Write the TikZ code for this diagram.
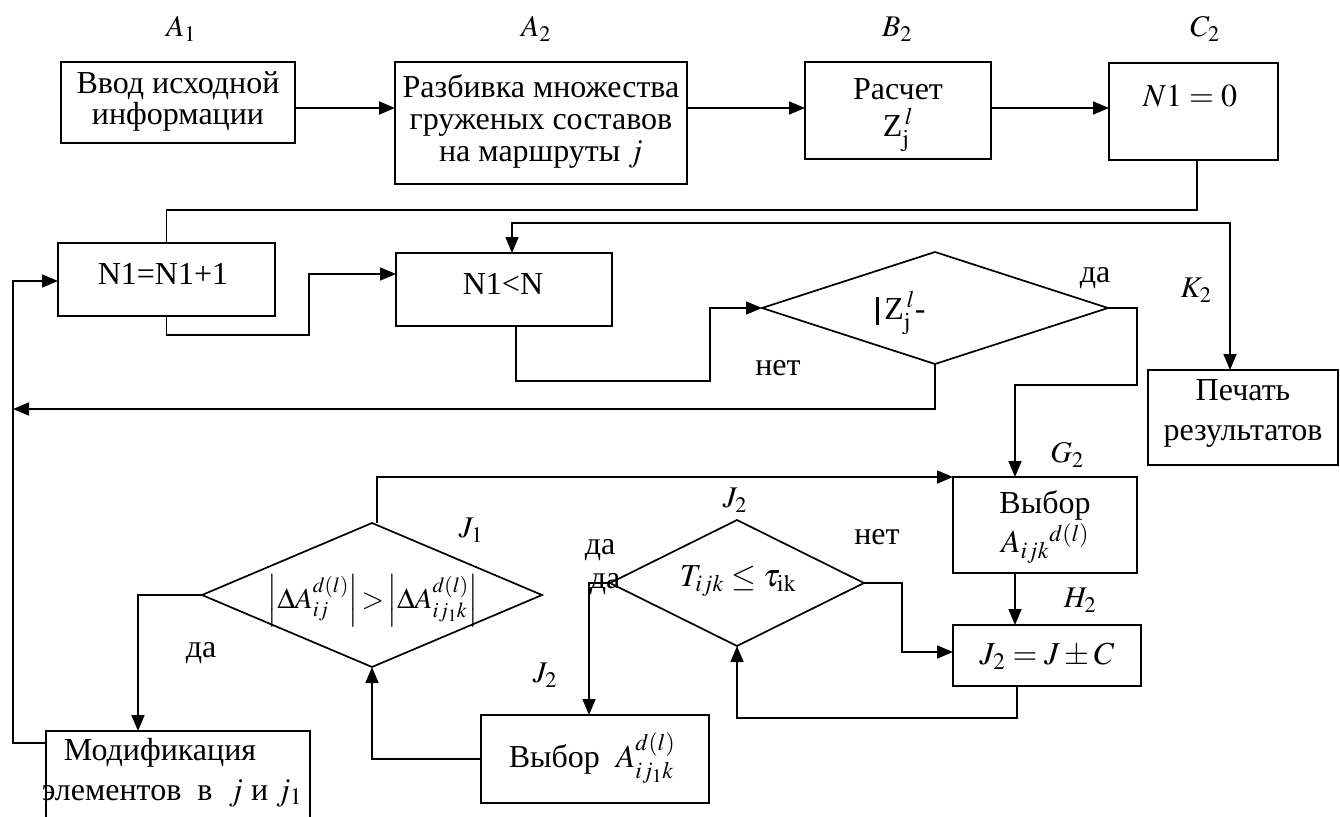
\documentclass[tikz,border=0pt]{standalone}
\usepackage{mathptmx}
\usepackage[no-math]{fontspec}
\setmainfont{Liberation Serif}
\usetikzlibrary{arrows.meta,shapes.geometric}
\begin{document}
\begin{tikzpicture}[x=1pt,y=-1pt,
  every node/.style={inner sep=0pt, outer sep=0pt},
  box/.style={draw, line width=1.7pt, rectangle},
  dia/.style={draw, line width=1.7pt, diamond},
  txt/.style={font=\fontsize{32}{31}\selectfont, align=center},
  lbl/.style={font=\fontsize{30}{30}\selectfont},
  conn/.style={line width=1.7pt},
  arr/.style={line width=1.7pt, -{Triangle[length=16pt,width=13pt]}},
]
\fill[white] (0,0) rectangle (1340,816);
\useasboundingbox (0,0) rectangle (1340,816);

% labels
\node[lbl] (lA1) at (181,29) {$A_1$};
\node[lbl] (lA2) at (536,29) {$A_2$};
\node[lbl] (lB2) at (897,29) {$B_2$};
\node[lbl] (lC2) at (1205,29) {$C_2$};
\node[lbl] (lK2) at (1196,290) {$K_2$};
\node[lbl] (lG2) at (1067,455) {$G_2$};
\node[lbl] (lH2) at (1080,600) {$H_2$};
\node[lbl] (lJ1) at (471,530) {$J_1$};
\node[lbl] (lJ2a) at (735,500) {$J_2$};
\node[lbl] (lJ2b) at (545,675) {$J_2$};

% boxes
\node[box, minimum width=234, minimum height=81] (b1) at (178,102.5) {};
\node[box, minimum width=292, minimum height=122] (b2) at (541,123) {};
\node[box, minimum width=186, minimum height=97] (b3) at (898,110.5) {};
\node[box, minimum width=169, minimum height=97] (b4) at (1193.5,111.5) {};
\node[box, minimum width=217, minimum height=73] (b5) at (166.5,279.5) {};
\node[box, minimum width=216, minimum height=73] (b6) at (504,289.5) {};
\node[box, minimum width=190, minimum height=95] (pr) at (1243,417.5) {};
\node[box, minimum width=184, minimum height=96] (vy) at (1045,525) {};
\node[box, minimum width=188, minimum height=61] (jc) at (1047,655.5) {};
\node[box, minimum width=228, minimum height=88] (vA) at (595,759) {};
\node[box, minimum width=264, minimum height=109] (mod) at (178,785.5) {};

% diamonds
\node[dia, minimum width=346, minimum height=112] (d1) at (935,308) {};
\node[dia, minimum width=254, minimum height=126] (d2) at (737,583) {};
\node[dia, minimum width=340, minimum height=144] (d3) at (372,595) {};

% texts
\node[txt] (tb1) at (178,101) {Ввод исходной\\информации};
\node[txt] (tb2) at (541,121) {Разбивка множества\\[1pt]груженых составов\\[1pt]на маршруты $j$};
\node[txt] (tb3) at (898,115) {Расчет\\[6pt]Z$_{\mathrm{j}}^{\,l}$};
\node[txt] (tb4) at (1190,96) {$N1=0$};
\node[txt] (tb5) at (163,274) {N1=N1+1};
\node[txt] (tb6) at (503,284) {N1<N};
\node[txt] (td1) at (901,313) {\rule[-6pt]{2.6pt}{28pt}\,Z$_{\mathrm{j}}^{\,l}$-};
\node[txt] (tpr) at (1243,413) {Печать\\[9pt]результатов};
\node[txt] (tvy) at (1045,527) {Выбор\\[2pt]$A_{ijk}{}^{d(l)}$};
\node[txt] (tjc) at (1047,656) {$J_2=J\pm C$};
\node[txt] (td2) at (738,581) {$T_{ijk}\le\tau_{\mathrm{ik}}$};
\node[txt, font=\fontsize{29}{30}\selectfont] (td3) at (373,601) {$\left|\Delta A_{ij}^{d(l)}\right|\!>\!\left|\Delta A_{ij_1k}^{d(l)}\right|$};
\node[txt] (tvA) at (592,758) {Выбор\ \ $A_{ij_1k}^{d(l)}$};
\node[txt] (tm1) at (160,753) {Модификация};
\node[txt] (tm2) at (172,793) {элементов\ \ в\ \ $j$ и $j_1$};

\node[txt] (yes1) at (1095,278) {да};
\node[txt] (no1) at (778,368) {нет};
\node[txt] (no2) at (877,537) {нет};
\node[txt] (yes2) at (600,550) {да};
\node[txt] (yes3) at (605,584) {да};
\node[txt] (yes4) at (201,653) {да};

% helper coordinates
\coordinate (c1) at (1197,210);
\coordinate (t1) at (870,223);
\coordinate (k1) at (309,335);
\coordinate (k2) at (309,274);
\coordinate (k3) at (710,381);
\coordinate (L1) at (13,409);
\coordinate (k4) at (1137,385);
\coordinate (L2) at (13,743);
\coordinate (L3) at (13,281);
\coordinate (k6) at (902,652);
\coordinate (k7) at (1017,718);

% connectors
\draw[arr] ([yshift=-5.5pt]b1.east) -- ([yshift=-5.5pt]b1.east -| b2.west);
\draw[arr] ([yshift=15pt]b2.east) -- ([yshift=15pt]b2.east -| b3.west);
\draw[arr] ([yshift=2.5pt]b3.east) -- ([yshift=2.5pt]b3.east -| b4.west);
\draw[conn] (b4.south -| c1) -- (c1) -| (b5.north);
\draw[arr] (t1) -| ([xshift=8pt]b6.north);
\draw[arr] (t1) -| ([xshift=-13pt]pr.north);
\draw[arr] (b5.south) |- (k1) -- (k2) -- (k2 -| b6.west);
\draw[arr] ([xshift=12pt]b6.south) |- (k3) |- (d1.west);
\draw[arr] (d1.south) |- (L1);
\draw[arr] (d1.east) -| (k4) -| ([xshift=-30pt]vy.north);
\draw[arr] (mod.west |- L2) -- (L2) -- (L3) -- (L3 -| b5.west);
\draw[arr] ([xshift=5pt]d3.north) |- (vy.north west);
\draw[arr] (d3.west) -| ([xshift=-40pt]mod.north);
\draw[arr] ([xshift=-30pt]vy.south) -- ([xshift=-30pt]vy.south |- jc.north);
\draw[arr] (d2.east) -| (k6) -- (k6 -| jc.west);
\draw[arr] (jc.south -| k7) -- (k7) -| (d2.south);
\draw[arr] (d2.west) -| ([xshift=-6pt]vA.north);
\draw[arr] (vA.west) -| (d3.south);
\end{tikzpicture}
\end{document}
